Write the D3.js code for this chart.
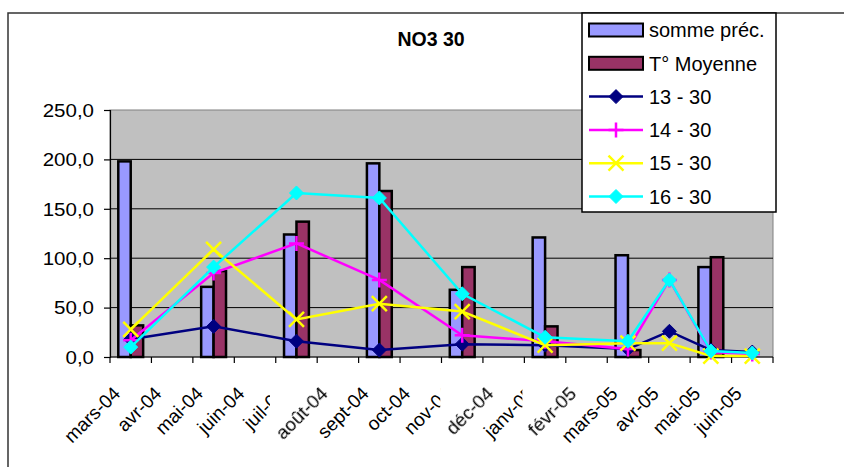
<!DOCTYPE html>
<html>
<head>
<meta charset="utf-8">
<script src="https://cdn.jsdelivr.net/npm/d3@7"></script>
<style>
  html, body { margin: 0; padding: 0; background: #fff; }
  svg { display: block; }
  text { font-family: "Liberation Sans", Arial, sans-serif; fill: #000; }
</style>
</head>
<body>
<svg id="chart" width="844" height="467"></svg>
<script>
// Months on the category axis
const months = ["mars-04", "avr-04", "mai-04", "juin-04", "juil-04", "août-04", "sept-04",
  "oct-04", "nov-04", "déc-04", "janv-05", "févr-05", "mars-05", "avr-05", "mai-05", "juin-05"];

// Bar series
const sommePrec = [198, null, 71, null, 124, null, 196, null, 68, null, 121, null, 103, null, 91, null];
const tMoyenne  = [32, null, 87, null, 137, null, 168, null, 91, null, 31, null, 7, null, 101, null];

// Line series (NO3 at 30 cm)
const s13 = [18, null, 31, null, 16, null, 7, null, 13, null, 12, null, 8, 26, 7, 5];
const s14 = [17, null, 85, null, 115, null, 78, null, 22, null, 16, null, 8, 78, 5, 3];
const s15 = [28, null, 109, null, 38, null, 54, null, 46, null, 12, null, 14, 14, 1, 1];
const s16 = [10, null, 91, null, 166, null, 161, null, 64, null, 20, null, 16, 78, 6, 4];

const yTicks = [0, 50, 100, 150, 200, 250];
const title = "NO3 30";

const barSeries = [
  { name: "somme préc.", values: sommePrec, color: "#9999FF" },
  { name: "T° Moyenne", values: tMoyenne, color: "#993366" }
];
const lineSeries = [
  { name: "13 - 30", values: s13, color: "#000080", marker: "diamond" },
  { name: "14 - 30", values: s14, color: "#FF00FF", marker: "plus" },
  { name: "15 - 30", values: s15, color: "#FFFF00", marker: "cross" },
  { name: "16 - 30", values: s16, color: "#00FFFF", marker: "diamond" }
];

const svg = d3.select("#chart");
const plot = { left: 110, right: 773, top: 110, bottom: 357 };

const x = d3.scaleBand().domain(months).range([plot.left, plot.right]).padding(0);
const y = d3.scaleLinear().domain([0, 250]).range([plot.bottom, plot.top]);
const frFmt = v => d3.format(".1f")(v).replace(".", ",");

// Blur filter for the raster-looking month labels
const defs = svg.append("defs");
defs.append("filter").attr("id", "soft").attr("x", "-10%").attr("y", "-10%")
  .attr("width", "120%").attr("height", "120%")
  .append("feGaussianBlur").attr("stdDeviation", 0.55);

// Outer chart frame (runs off the right and bottom)
svg.append("rect").attr("x", 8).attr("y", 13).attr("width", 860).attr("height", 480)
  .attr("fill", "#fff").attr("stroke", "#333").attr("stroke-width", 1.5);

// Plot area
svg.append("rect")
  .attr("x", plot.left).attr("y", plot.top)
  .attr("width", plot.right - plot.left).attr("height", plot.bottom - plot.top)
  .attr("fill", "#C0C0C0").attr("stroke", "#808080").attr("stroke-width", 1);

// Horizontal gridlines
svg.append("g").selectAll("line").data(yTicks.filter(t => t > 0 && t < 250)).join("line")
  .attr("x1", plot.left).attr("x2", plot.right)
  .attr("y1", d => y(d)).attr("y2", d => y(d))
  .attr("stroke", "#000").attr("stroke-width", 1);

// Title
svg.append("text").attr("x", 431).attr("y", 46).attr("text-anchor", "middle")
  .attr("font-weight", "bold").attr("font-size", 19.5).text(title);

// Bars
const bw = x.bandwidth() * 0.3;
barSeries.forEach((s, si) => {
  svg.append("g").selectAll("rect")
    .data(months.map((m, i) => ({ m, v: s.values[i] })).filter(d => d.v != null))
    .join("rect")
    .attr("x", d => x(d.m) + x.bandwidth() / 2 - bw + si * bw)
    .attr("y", d => y(d.v))
    .attr("width", bw)
    .attr("height", d => y(0) - y(d.v))
    .attr("fill", s.color).attr("stroke", "#000").attr("stroke-width", 2.5);
});

// Y axis: line and ticks from d3, labels set slightly wide
const yAxis = svg.append("g").attr("transform", `translate(${plot.left},0)`)
  .call(d3.axisLeft(y).tickValues(yTicks).tickSize(6).tickPadding(10).tickFormat(frFmt));
yAxis.select(".domain").attr("stroke", "#000").attr("stroke-width", 1.2);
yAxis.selectAll(".tick line").attr("stroke", "#000").attr("stroke-width", 1.2);
yAxis.selectAll(".tick text")
  .attr("font-size", 18).attr("font-family", "Liberation Sans, Arial, sans-serif")
  .attr("fill", "#000").attr("x", null).attr("dy", "0.35em")
  .attr("transform", "translate(-16,0) scale(1.14,1)");

// X axis baseline and boundary ticks
const xg = svg.append("g");
xg.append("line").attr("x1", plot.left).attr("x2", plot.right)
  .attr("y1", y(0)).attr("y2", y(0)).attr("stroke", "#000").attr("stroke-width", 1.2);
const bounds = months.map(m => x(m)).concat([x.range()[1]]);
xg.selectAll("line.tk").data(bounds).join("line").attr("class", "tk")
  .attr("x1", d => d).attr("x2", d => d)
  .attr("y1", y(0)).attr("y2", y(0) + 6)
  .attr("stroke", "#000").attr("stroke-width", 1.2);

// Month labels, rotated
const opaque = new Set(["août-04", "déc-04", "févr-05"]);
const labG = svg.append("g");
months.forEach(m => {
  const px = x(m) + x.bandwidth() / 2 - 19, py = 385;
  const g = labG.append("g");
  const t = g.append("text")
    .attr("transform", `translate(${px},${py}) rotate(-45)`)
    .attr("text-anchor", "end").attr("dy", "0.72em")
    .attr("font-size", 19).text(m);
  if (opaque.has(m)) {
    const bb = t.node().getBoundingClientRect();
    g.insert("rect", "text").attr("x", bb.left - 1).attr("y", bb.top - 1)
      .attr("width", bb.width + 2).attr("height", bb.height + 2).attr("fill", "#fff");
    t.attr("filter", "url(#soft)");
  }
});

// Marker drawing
function marker(sel, type, color, size) {
  const h = size / 2;
  if (type === "diamond") {
    sel.append("path").attr("d", `M0,${-h}L${h},0L0,${h}L${-h},0Z`)
      .attr("fill", color).attr("stroke", color).attr("stroke-width", 1);
  } else if (type === "plus") {
    sel.append("path").attr("d", `M${-h},0H${h}M0,${-h}V${h}`)
      .attr("stroke", color).attr("stroke-width", 2.5).attr("fill", "none");
  } else {
    sel.append("path").attr("d", `M${-h},${-h}L${h},${h}M${-h},${h}L${h},${-h}`)
      .attr("stroke", color).attr("stroke-width", 2.5).attr("fill", "none");
  }
}
const markerSize = t => (t === "diamond" ? 14 : 15);

// Lines (gaps bridged)
const line = d3.line().x(d => x(d.m) + x.bandwidth() / 2).y(d => y(d.v));
lineSeries.forEach(s => {
  const pts = months.map((m, i) => ({ m, v: s.values[i] })).filter(d => d.v != null);
  const g = svg.append("g");
  g.append("path").datum(pts).attr("d", line)
    .attr("fill", "none").attr("stroke", s.color).attr("stroke-width", 2.5);
  pts.forEach(d => {
    const mg = g.append("g").attr("transform", `translate(${x(d.m) + x.bandwidth() / 2},${y(d.v)})`);
    marker(mg, s.marker, s.color, markerSize(s.marker));
  });
});

// Legend
const lg = svg.append("g");
lg.append("rect").attr("x", 582).attr("y", 13).attr("width", 194).attr("height", 199)
  .attr("fill", "#fff").attr("stroke", "#000").attr("stroke-width", 1.5);
const rowY = i => 30 + i * 33.3;
barSeries.forEach((s, i) => {
  lg.append("rect").attr("x", 589).attr("y", rowY(i) - 6.5).attr("width", 54).attr("height", 13)
    .attr("fill", s.color).attr("stroke", "#000").attr("stroke-width", 2);
  lg.append("text").attr("x", 649).attr("y", rowY(i)).attr("dy", "0.36em")
    .attr("font-size", 20).text(s.name);
});
lineSeries.forEach((s, j) => {
  const i = j + 2;
  lg.append("line").attr("x1", 589).attr("x2", 643).attr("y1", rowY(i)).attr("y2", rowY(i))
    .attr("stroke", s.color).attr("stroke-width", 2.5);
  const mg = lg.append("g").attr("transform", `translate(616,${rowY(i)})`);
  marker(mg, s.marker, s.color, markerSize(s.marker));
  lg.append("text").attr("x", 649).attr("y", rowY(i)).attr("dy", "0.36em")
    .attr("font-size", 20).text(s.name);
});
</script>
</body>
</html>
